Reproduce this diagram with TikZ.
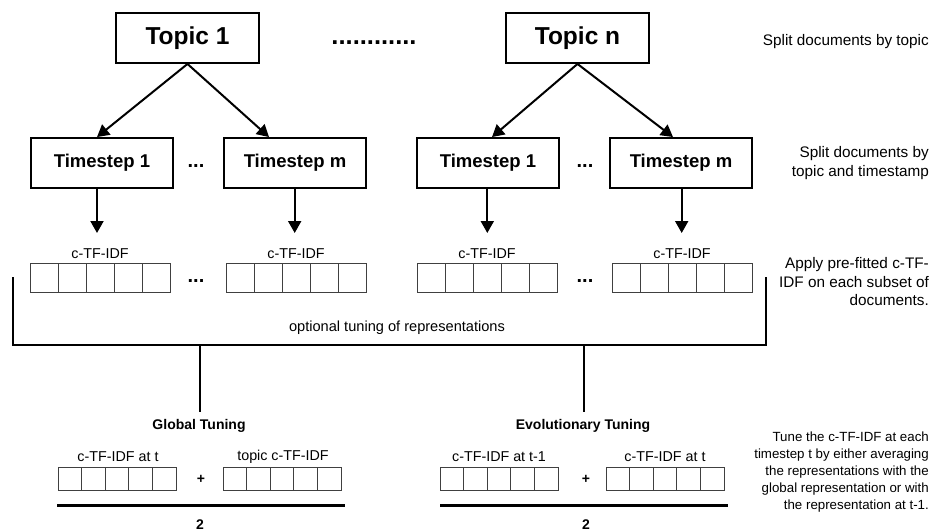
\documentclass[tikz,border=0pt]{standalone}
\usepackage{fontspec}
\setmainfont{Liberation Sans}
\usetikzlibrary{arrows.meta,calc}

\tikzset{
  topicbox/.style={draw, line width=1.9pt, minimum width=143pt, minimum height=50pt,
    inner sep=0pt, font=\bfseries\fontsize{24.5}{28}\selectfont},
  tsbox/.style={draw, line width=1.9pt, minimum width=142pt, minimum height=50pt,
    inner sep=0pt, font=\bfseries\fontsize{18.5}{22}\selectfont},
  cell/.style={draw=black!75, line width=0.9pt, minimum width=28pt, minimum height=29pt,
    inner sep=0pt},
  smallcell/.style={draw=black!75, line width=0.9pt, minimum width=23.6pt, minimum height=23pt,
    inner sep=0pt},
  arr/.style={line width=2pt, -{Triangle[length=12pt,width=13pt]}},
  lbl/.style={font=\fontsize{14.3}{17}\selectfont, inner sep=0pt},
  headlbl/.style={font=\bfseries\fontsize{14}{17}\selectfont, inner sep=0pt},
  dotsA/.style={font=\bfseries\fontsize{20}{24}\selectfont, inner sep=0pt, anchor=base},
  note/.style={anchor=east, align=right, inner sep=0pt, font=\fontsize{15.3}{18.5}\selectfont},
  bracket/.style={line width=2.3pt},
}

% a row of five cells; #1 name, #2 left x, #3 centre y, #4 style, #5 cell width
\newcommand{\cellrow}[5]{%
  \foreach \k in {1,...,5}{
    \node[#4] (#1-\k) at ({#2+(\k-0.5)*#5},#3) {};
  }%
}

\begin{document}
\begin{tikzpicture}[x=1pt,y=-1pt]
\useasboundingbox (0,0) rectangle (931,532);

% topic level
\node[topicbox] (t1) at (187.5,38) {Topic 1};
\node[topicbox] (tn) at (577.5,38) {Topic n};
\node[font=\bfseries\fontsize{25.5}{28}\selectfont, inner sep=0pt, anchor=base] (tdots) at (374,45) {............};

% timestep level
\node[tsbox] (ts1a) at (102,163) {Timestep 1};
\node[tsbox] (tsma) at (295,163) {Timestep m};
\node[tsbox] (ts1b) at (488,163) {Timestep 1};
\node[tsbox] (tsmb) at (681,163) {Timestep m};
\node[dotsA] (mdA) at (196,167) {...};
\node[dotsA] (mdB) at (585,167) {...};

\draw[arr] (t1.south) -- ($(ts1a.north)+(-5,0)$);
\draw[arr] (t1.south) -- ($(tsma.north)+(-26,0)$);
\draw[arr] (tn.south) -- ($(ts1b.north)+(4,0)$);
\draw[arr] (tn.south) -- ($(tsmb.north)+(-8,0)$);

% c-TF-IDF rows
\cellrow{ra}{30}{277.5}{cell}{28}
\cellrow{rb}{226}{277.5}{cell}{28}
\cellrow{rc}{417}{277.5}{cell}{28}
\cellrow{rd}{612}{277.5}{cell}{28}
\node[lbl] (la) at (100,254) {c-TF-IDF};
\node[lbl] (lb) at (296,254) {c-TF-IDF};
\node[lbl] (lc) at (487,254) {c-TF-IDF};
\node[lbl] (ld) at (682,254) {c-TF-IDF};
\node[dotsA] (cdA) at (196,282) {...};
\node[dotsA] (cdB) at (585,282) {...};

\coordinate (va) at (97,233);
\coordinate (vb) at (294.7,233);
\coordinate (vc) at (487.3,233);
\coordinate (vd) at (681.7,233);
\draw[arr] ($(ts1a.south)+(-5,0)$) -- (va);
\draw[arr] ($(tsma.south)+(-0.3,0)$) -- (vb);
\draw[arr] ($(ts1b.south)+(-0.7,0)$) -- (vc);
\draw[arr] ($(tsmb.south)+(0.7,0)$) -- (vd);

% bracket collecting all representations
\coordinate (bl) at (13,277);
\coordinate (bbl) at (13,345);
\coordinate (bbr) at (766,345);
\coordinate (br) at (766,277);
\coordinate (bg) at (200,345);
\coordinate (be) at (584,345);
\draw[bracket, line join=miter] (bl) -- (bbl) -- (bbr) -- (br);
\node[lbl, font=\fontsize{14.6}{17}\selectfont] (opt) at (397,328) {optional tuning of representations};

% tuning strategies
\node[headlbl] (gt) at (199,426) {Global Tuning};
\node[headlbl] (et) at (583,426) {Evolutionary Tuning};
\draw[bracket] (bg) -- ($(gt.north)+(1,-7)$);
\draw[bracket] (be) -- ($(et.north)+(1,-7)$);

\cellrow{ga}{58}{478.5}{smallcell}{23.6}
\cellrow{gb}{223}{478.5}{smallcell}{23.6}
\cellrow{ea}{440}{478.5}{smallcell}{23.6}
\cellrow{eb}{606}{478.5}{smallcell}{23.6}
\node[lbl] at (118,457) {c-TF-IDF at t};
\node[lbl] at (283,457) {topic c-TF-IDF};
\node[lbl] at (499,457) {c-TF-IDF at t-1};
\node[lbl] at (665,457) {c-TF-IDF at t};
\node[headlbl] (pg) at (201,479) {+};
\node[headlbl] (pe) at (586,479) {+};

\coordinate (fgl) at (57,505);
\coordinate (fgr) at (345,505);
\coordinate (fel) at (440,505);
\coordinate (fer) at (728,505);
\draw[line width=3pt] (fgl) -- (fgr);
\draw[line width=3pt] (fel) -- (fer);
\node[headlbl] (dg) at (200,525) {2};
\node[headlbl] (de) at (586,525) {2};

% step descriptions
\node[note] at (929,42) {Split documents by topic};
\node[note] at (929,163) {Split documents by\\topic and timestamp};
\node[note] at (929,282) {Apply pre-fitted c-TF-\\IDF on each subset of\\documents.};
\node[note, font=\fontsize{13.3}{17}\selectfont] at (929,472) {Tune the c-TF-IDF at each\\timestep t by either averaging\\the representations with the\\global representation or with\\the representation at t-1.};
\end{tikzpicture}
\end{document}
